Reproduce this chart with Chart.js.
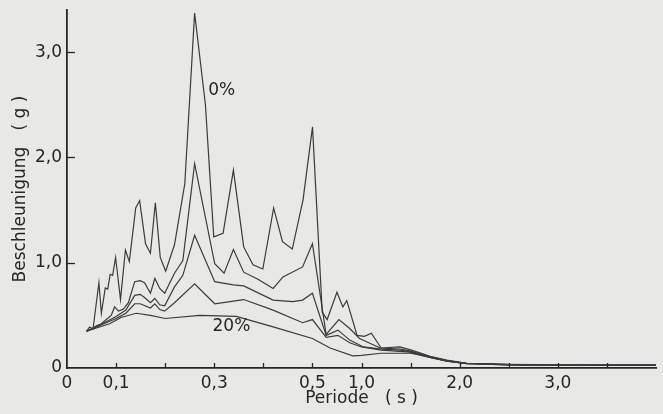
<!DOCTYPE html>
<html>
<head>
<meta charset="utf-8">
<script src="https://cdn.jsdelivr.net/npm/chart.js@4/dist/chart.umd.min.js"></script>
<style>
  html, body { margin: 0; padding: 0; background: #e8e8e6; }
  #wrap { width: 663px; height: 414px; position: relative; }
</style>
</head>
<body>
<div id="wrap"><canvas id="spectrum"></canvas></div>
<script>
// Periode (s) and Beschleunigung (g) for each damping curve
const periods0 = [0.04, 0.046, 0.053, 0.065, 0.070, 0.078, 0.083, 0.088, 0.093, 0.099, 0.109, 0.119, 0.127, 0.140, 0.148, 0.160, 0.170, 0.180, 0.190, 0.201, 0.219, 0.240, 0.260, 0.282, 0.299, 0.318, 0.339, 0.360, 0.379, 0.399, 0.421, 0.439, 0.459, 0.481, 0.501, 0.60, 0.65, 0.75, 0.81, 0.85, 0.955, 1.03, 1.10, 1.20, 1.39, 1.51, 1.70, 1.87, 2.07, 2.5, 3.0, 3.5, 4.0];
const accel0   = [0.35, 0.39, 0.37, 0.81, 0.52, 0.76, 0.75, 0.89, 0.88, 1.05, 0.65, 1.12, 1.01, 1.52, 1.59, 1.18, 1.09, 1.57, 1.05, 0.92, 1.17, 1.75, 3.37, 2.50, 1.245, 1.28, 1.88, 1.15, 0.98, 0.94, 1.52, 1.20, 1.13, 1.60, 2.29, 0.53, 0.46, 0.72, 0.58, 0.64, 0.31, 0.30, 0.33, 0.19, 0.20, 0.17, 0.11, 0.076, 0.045, 0.035, 0.03, 0.03, 0.03];

const periodsB = [0.04, 0.05, 0.06, 0.07, 0.08, 0.09, 0.097, 0.105, 0.115, 0.125, 0.138, 0.149, 0.158, 0.170, 0.179, 0.189, 0.199, 0.219, 0.236, 0.260, 0.301, 0.320, 0.339, 0.360, 0.39, 0.420, 0.440, 0.480, 0.500, 0.64, 0.77, 0.88, 0.98, 1.19, 1.4, 1.5, 1.7, 1.87, 2.07, 2.5, 3.0, 3.5, 4.0];
const accelB   = [0.35, 0.37, 0.40, 0.42, 0.46, 0.50, 0.58, 0.54, 0.56, 0.62, 0.82, 0.83, 0.81, 0.71, 0.85, 0.755, 0.71, 0.90, 1.02, 1.94, 0.99, 0.90, 1.125, 0.91, 0.84, 0.755, 0.865, 0.96, 1.18, 0.32, 0.46, 0.375, 0.28, 0.19, 0.18, 0.16, 0.105, 0.07, 0.045, 0.033, 0.028, 0.027, 0.027];

const periodsC = [0.04, 0.05, 0.06, 0.08, 0.10, 0.12, 0.138, 0.149, 0.158, 0.170, 0.179, 0.189, 0.199, 0.219, 0.236, 0.260, 0.301, 0.339, 0.36, 0.42, 0.46, 0.48, 0.50, 0.64, 0.76, 0.88, 1.02, 1.2, 1.4, 1.5, 1.7, 1.87, 2.07, 2.5, 3.0, 3.5, 4.0];
const accelC   = [0.35, 0.37, 0.39, 0.44, 0.49, 0.55, 0.69, 0.70, 0.67, 0.62, 0.66, 0.60, 0.59, 0.77, 0.88, 1.26, 0.82, 0.79, 0.78, 0.645, 0.63, 0.645, 0.71, 0.31, 0.36, 0.265, 0.20, 0.18, 0.17, 0.15, 0.10, 0.068, 0.044, 0.032, 0.027, 0.026, 0.026];

const periodsD = [0.04, 0.06, 0.08, 0.10, 0.12, 0.138, 0.149, 0.170, 0.179, 0.189, 0.199, 0.219, 0.26, 0.301, 0.36, 0.42, 0.48, 0.50, 0.64, 0.76, 0.88, 1.0, 1.2, 1.5, 1.7, 1.87, 2.07, 2.5, 3.0, 3.5, 4.0];
const accelD   = [0.35, 0.39, 0.43, 0.47, 0.52, 0.61, 0.61, 0.57, 0.61, 0.555, 0.54, 0.62, 0.80, 0.61, 0.65, 0.55, 0.43, 0.46, 0.29, 0.31, 0.24, 0.20, 0.17, 0.15, 0.10, 0.066, 0.042, 0.03, 0.026, 0.025, 0.025];

const periods20 = [0.04, 0.06, 0.087, 0.11, 0.141, 0.17, 0.20, 0.27, 0.345, 0.42, 0.50, 0.68, 0.91, 1.0, 1.2, 1.5, 1.7, 1.87, 2.07, 2.5, 3.0, 3.5, 4.0];
const accel20   = [0.35, 0.38, 0.42, 0.48, 0.52, 0.50, 0.47, 0.50, 0.49, 0.39, 0.28, 0.19, 0.115, 0.12, 0.14, 0.14, 0.10, 0.066, 0.042, 0.03, 0.025, 0.024, 0.024];

// axis ticks and labels
const xTickValues = [0, 0.1, 0.2, 0.3, 0.4, 0.5, 1.0, 1.5, 2.0, 2.5, 3.0, 3.5];
const xTickLabels = ['0', '0,1', '', '0,3', '', '0,5', '1,0', '', '2,0', '', '3,0', ''];
const yTickValues = [0, 1, 2, 3];
const yTickLabels = ['0', '1,0', '2,0', '3,0'];

const ink = '#262626';
const lineInk = '#3b3b3b';

// the period axis is stretched below 0,5 s: 0,1 s per step there, 0,5 s per step after
function periodToStep(t) { return t <= 0.5 ? t / 0.1 : 5 + (t - 0.5) / 0.5; }
function stepToPeriod(u) { return u <= 5 ? u * 0.1 : 0.5 + (u - 5) * 0.5; }

class PeriodScale extends Chart.LinearScale {
    getPixelForValue(value) {
        if (value === null || value === undefined) return NaN;
        const a = periodToStep(this.min), b = periodToStep(this.max);
        return this.getPixelForDecimal((periodToStep(value) - a) / (b - a));
    }
    getValueForPixel(pixel) {
        const a = periodToStep(this.min), b = periodToStep(this.max);
        return stepToPeriod(a + this.getDecimalForPixel(pixel) * (b - a));
    }
}
PeriodScale.id = 'period';
PeriodScale.defaults = Chart.LinearScale.defaults;
Chart.register(PeriodScale);

function curve(periods, accel) {
    return {
        data: periods.map((t, i) => ({ x: t, y: accel[i] })),
        borderColor: lineInk,
        borderWidth: 1.2,
        pointRadius: 0,
        tension: 0,
        fill: false
    };
}

// small tick marks pointing into the plot
const inwardTicks = {
    id: 'inwardTicks',
    afterDraw(chart) {
        const { ctx, scales: { x, y } } = chart;
        ctx.save();
        ctx.strokeStyle = ink;
        ctx.lineWidth = 1.3;
        x.ticks.forEach((t, i) => {
            if (i === 0) return;
            const px = Math.round(x.getPixelForTick(i)) + 0.5;
            ctx.beginPath();
            ctx.moveTo(px, x.top);
            ctx.lineTo(px, x.top - 5);
            ctx.stroke();
        });
        y.ticks.forEach((t, i) => {
            if (i === 0) return;
            const py = Math.round(y.getPixelForTick(i)) + 0.5;
            ctx.beginPath();
            ctx.moveTo(y.right, py);
            ctx.lineTo(y.right + 8, py);
            ctx.stroke();
        });
        ctx.restore();
    }
};

// curve names written next to the curves
const curveNames = [
    { text: '0%', period: 0.315, value: 2.63 },
    { text: '20%', period: 0.335, value: 0.39 }
];
const curveLabels = {
    id: 'curveLabels',
    afterDraw(chart) {
        const { ctx, scales: { x, y } } = chart;
        ctx.save();
        ctx.fillStyle = ink;
        ctx.font = '17px "DejaVu Sans"';
        ctx.textAlign = 'center';
        ctx.textBaseline = 'middle';
        curveNames.forEach(n => ctx.fillText(n.text, x.getPixelForValue(n.period), y.getPixelForValue(n.value)));
        ctx.restore();
    }
};

Chart.defaults.font.family = '"DejaVu Sans", sans-serif';
Chart.defaults.color = ink;

const ctx = document.getElementById('spectrum').getContext('2d');
const spectrumChart = new Chart(ctx, {
    type: 'line',
    data: {
        datasets: [
            curve(periods0, accel0),
            curve(periodsB, accelB),
            curve(periodsC, accelC),
            curve(periodsD, accelD),
            curve(periods20, accel20)
        ]
    },
    options: {
        responsive: true,
        maintainAspectRatio: false,
        animation: false,
        layout: { padding: { top: 10, right: 7, left: 0, bottom: 0 } },
        plugins: { legend: { display: false }, tooltip: { enabled: false } },
        scales: {
            x: {
                type: 'period',
                min: 0,
                max: 4.0,
                afterBuildTicks: s => { s.ticks = xTickValues.map(v => ({ value: v })); },
                afterFit: s => { s.height = 46; s.paddingLeft = 0; s.paddingRight = 0; },
                ticks: {
                    autoSkip: false,
                    maxRotation: 0,
                    padding: 5,
                    font: { size: 17 },
                    callback: (v, i) => xTickLabels[i]
                },
                grid: { drawOnChartArea: false, drawTicks: false },
                border: { display: true, color: ink, width: 1.8 },
                title: {
                    display: true,
                    text: 'Periode   ( s )',
                    font: { size: 17 },
                    padding: { top: 0, bottom: 5 }
                }
            },
            y: {
                min: 0,
                max: 3.4,
                afterBuildTicks: s => { s.ticks = yTickValues.map(v => ({ value: v })); },
                afterFit: s => { s.width = 67; s.paddingTop = 0; s.paddingBottom = 0; },
                ticks: {
                    padding: 5,
                    font: { size: 17 },
                    callback: (v, i) => yTickLabels[i]
                },
                grid: { drawOnChartArea: false, drawTicks: false },
                border: { display: true, color: ink, width: 1.8 },
                title: {
                    display: true,
                    text: 'Beschleunigung   ( g )',
                    font: { size: 17 },
                    padding: { top: 10, bottom: 0 }
                }
            }
        }
    },
    plugins: [inwardTicks, curveLabels]
});
</script>
</body>
</html>
